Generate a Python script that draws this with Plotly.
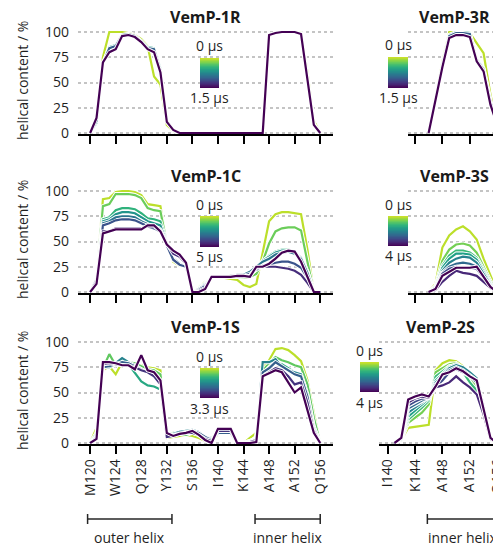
import numpy as np
import plotly.graph_objects as go
from plotly.colors import sample_colorscale

W, H = 501, 546
OFF = 8          # the page body margin shifts the figure by 8 px; compensate
FONT = "Open Sans"

# ---------------- data ----------------
res_full = list(range(120, 157))      # residues for VemP-1R / 1C / 1S
res_3 = list(range(146, 158))         # residues for VemP-3R / 3S
res_2S = list(range(141, 158))        # residues for VemP-2S

tick_full = [120, 124, 128, 132, 136, 140, 144, 148, 152, 156]
ticklab_full = ["M120", "W124", "Q128", "Y132", "S136", "I140", "K144", "A148", "A152", "Q156"]
tick_right = [140, 144, 148, 152, 156]
ticklab_right = ["I140", "K144", "A148", "A152", "Q156"]

vemp_1R = [
    [0, 10, 75, 100, 100, 100, 99, 97, 93, 86, 56, 48, 8, 2, 0, 0, 0, 0, 0, 0, 0, 0, 0, 0, 0, 0, 0, 0, 97, 99, 100, 100, 100, 99, 60, 12, 0],
    [0, 10, 68, 85, 87, 97, 98, 96, 91, 85, 84, 64, 12, 3, 0, 0, 0, 0, 0, 0, 0, 0, 0, 0, 0, 0, 0, 0, 97, 99, 100, 100, 100, 98, 54, 9, 0],
    [0, 12, 69, 84, 86, 97, 98, 96, 90, 84, 83, 62, 12, 3, 0, 0, 0, 0, 0, 0, 0, 0, 0, 0, 0, 0, 0, 0, 97, 99, 100, 100, 100, 98, 53, 8, 0],
    [0, 15, 70, 80, 83, 96, 97, 95, 90, 83, 80, 60, 11, 3, 0, 0, 0, 0, 0, 0, 0, 0, 0, 0, 0, 0, 0, 0, 97, 99, 100, 100, 100, 98, 52, 8, 0],
]

vemp_3R = [
    [0, 35, 70, 100, 100, 100, 99, 89, 79, 38, 5, 0],
    [0, 34, 68, 97, 100, 100, 99, 73, 64, 32, 5, 0],
    [0, 34, 67, 96, 99, 99, 98, 72, 63, 31, 5, 0],
    [0, 33, 65, 94, 97, 97, 95, 71, 61, 28, 8, 0],
]

vemp_1C = [
    [0, 15, 92, 93, 99, 100, 100, 99, 96, 87, 86, 85, 47, 30, 26, 25, 0, 5, 10, 14, 14, 14, 13, 12, 7, 5, 8, 40, 70, 77, 79, 79, 78, 77, 42, 0, 0],
    [0, 14, 85, 87, 97, 97, 97, 96, 93, 83, 81, 80, 48, 32, 27, 25, 0, 4, 9, 14, 15, 15, 15, 15, 14, 15, 18, 30, 48, 60, 63, 64, 64, 61, 30, 0, 0],
    [0, 13, 72, 74, 81, 83, 83, 82, 78, 73, 72, 70, 49, 33, 28, 25, 0, 3, 8, 15, 15, 15, 15, 16, 16, 18, 22, 30, 36, 40, 42, 42, 40, 34, 20, 0, 0],
    [0, 13, 70, 72, 77, 79, 79, 78, 74, 70, 68, 66, 48, 33, 28, 25, 0, 3, 8, 15, 15, 15, 16, 16, 17, 19, 24, 31, 35, 39, 41, 41, 39, 34, 20, 0, 0],
    [0, 12, 68, 70, 74, 75, 75, 74, 70, 67, 65, 62, 47, 33, 28, 25, 0, 3, 7, 15, 15, 15, 16, 17, 17, 20, 25, 30, 33, 37, 39, 40, 38, 33, 19, 0, 0],
    [0, 12, 66, 68, 71, 72, 72, 71, 68, 65, 63, 60, 46, 32, 27, 25, 0, 2, 6, 15, 15, 15, 16, 16, 16, 18, 22, 26, 27, 29, 30, 30, 28, 24, 14, 0, 0],
    [0, 10, 60, 60, 63, 63, 63, 63, 63, 65, 65, 61, 48, 38, 35, 28, 0, 1, 4, 15, 15, 15, 15, 15, 15, 16, 24, 25, 25, 25, 24, 23, 21, 17, 9, 0, 0],
    [0, 8, 58, 60, 62, 62, 62, 62, 62, 66, 66, 60, 47, 41, 37, 29, 0, 0, 3, 15, 15, 15, 15, 16, 16, 15, 25, 25, 28, 33, 39, 41, 40, 30, 14, 0, 0],
]

vemp_3S = [
    [0, 8, 44, 56, 62, 65, 60, 52, 33, 16, 0, 0],
    [0, 6, 31, 42, 47, 48, 46, 39, 25, 11, 0, 0],
    [0, 5, 26, 36, 41, 41, 39, 34, 22, 9, 0, 0],
    [0, 5, 24, 33, 38, 38, 37, 32, 20, 8, 0, 0],
    [0, 4, 21, 29, 33, 35, 34, 29, 18, 7, 0, 0],
    [0, 4, 19, 25, 28, 29, 28, 25, 15, 6, 0, 0],
    [0, 3, 18, 23, 25, 24, 24, 23, 14, 5, 0, 0],
    [0, 2, 10, 16, 21, 19, 18, 16, 10, 4, 0, 0],
    [0, 3, 16, 20, 24, 24, 24, 25, 15, 5, 0, 0],
]

vemp_1S = [
    [0, 15, 72, 76, 68, 80, 80, 78, 77, 75, 74, 72, 5, 6, 7, 8, 7, 5, 2, 3, 8, 8, 8, 0, 0, 5, 10, 75, 82, 93, 94, 92, 87, 81, 62, 30, 0],
    [0, 10, 74, 88, 77, 80, 80, 79, 76, 73, 72, 68, 8, 10, 9, 8, 10, 8, 3, 5, 10, 10, 10, 0, 0, 2, 5, 72, 78, 85, 82, 80, 77, 75, 58, 25, 0],
    [0, 8, 75, 75, 78, 82, 78, 70, 61, 57, 56, 53, 6, 8, 10, 10, 12, 10, 5, 5, 9, 9, 9, 0, 0, 2, 4, 68, 75, 80, 78, 74, 70, 65, 45, 15, 0],
    [0, 6, 76, 77, 79, 84, 80, 77, 73, 70, 68, 62, 8, 9, 11, 12, 13, 11, 6, 4, 10, 10, 10, 0, 0, 1, 4, 80, 80, 83, 75, 72, 70, 68, 48, 16, 0],
    [0, 6, 75, 76, 78, 80, 79, 76, 73, 70, 67, 60, 7, 8, 10, 11, 12, 10, 6, 3, 10, 10, 10, 0, 0, 1, 3, 70, 74, 80, 76, 72, 68, 66, 46, 14, 0],
    [0, 5, 78, 79, 78, 77, 77, 75, 72, 70, 66, 58, 6, 7, 9, 10, 10, 8, 4, 2, 12, 12, 12, 0, 0, 1, 3, 66, 70, 74, 72, 66, 58, 60, 40, 12, 0],
    [0, 4, 80, 80, 79, 77, 77, 73, 87, 72, 70, 62, 10, 7, 9, 10, 12, 8, 3, 0, 14, 14, 14, 0, 0, 0, 1, 66, 69, 72, 70, 60, 50, 55, 33, 10, 0],
]

vemp_2S = [
    [0, 3, 15, 16, 17, 18, 72, 79, 82, 81, 76, 69, 62, 34, 5, 0, 0],
    [0, 3, 20, 25, 30, 38, 70, 74, 78, 79, 74, 66, 55, 32, 5, 0, 0],
    [0, 3, 23, 29, 35, 42, 66, 71, 76, 77, 70, 60, 52, 30, 5, 0, 0],
    [0, 4, 26, 32, 38, 44, 62, 68, 75, 78, 74, 68, 62, 36, 6, 0, 0],
    [0, 4, 30, 35, 40, 45, 60, 66, 74, 77, 75, 70, 64, 37, 6, 0, 0],
    [0, 4, 34, 38, 42, 45, 58, 64, 72, 75, 72, 67, 62, 35, 5, 0, 0],
    [0, 5, 37, 41, 44, 45, 56, 62, 70, 73, 70, 66, 60, 34, 5, 0, 0],
    [0, 5, 40, 44, 46, 45, 55, 57, 60, 66, 60, 55, 48, 28, 4, 0, 0],
    [0, 5, 43, 46, 48, 46, 56, 68, 70, 74, 71, 66, 62, 33, 5, 0, 0],
]

outer_helix = (119.6, 132.8)
inner_helix = (145.8, 156.0)

# panel: title, residues, series, end-time label, axis index, column
panels = [
    ("VemP-1R", res_full, vemp_1R, "1.5 µs", 1, "L"),
    ("VemP-3R", res_3, vemp_3R, "1.5 µs", 2, "R3"),
    ("VemP-1C", res_full, vemp_1C, "5 µs", 3, "L"),
    ("VemP-3S", res_3, vemp_3S, "4 µs", 4, "R3"),
    ("VemP-1S", res_full, vemp_1S, "3.3 µs", 5, "L"),
    ("VemP-2S", res_2S, vemp_2S, "4 µs", 6, "R2"),
]

# ---------------- layout geometry (target-image pixels) ----------------
def fx(px):
    return (px - OFF) / W

def fy(py):
    return 1 - (py - OFF) / H

row_zero_px = [133, 292, 443]     # pixel row of y=0 for each panel row
Y_RANGE = [-1, 104]
PX_PER_UNIT = 1.01

col_geom = {
    "L": dict(x0=78, x1=333, rng=[118.1, 158.0]),
    "R3": dict(x0=408, x1=509, rng=[143.0, 157.7]),
    "R2": dict(x0=379, x1=509, rng=[138.75, 157.7]),
}

grad_boxes = {
    1: (200, 219, 58, 88),
    2: (388, 408, 57, 88),
    3: (200, 219, 216, 247),
    4: (388, 408, 216, 246),
    5: (200, 219, 368, 398),
    6: (360, 379, 362, 392),
}

fig = go.Figure()
layout = dict(
    width=W, height=H, margin=dict(l=0, r=0, t=0, b=0, autoexpand=False),
    paper_bgcolor="white", plot_bgcolor="white", showlegend=False,
    font=dict(family=FONT, size=14, color="#1f1f1f"),
)
annotations = []
shapes = []
TXT = dict(size=14, family=FONT, color="#1f1f1f")

for title, res, series, tlabel, k, col in panels:
    n = len(series)
    cols = sample_colorscale("Viridis", [0.9 * (1 - i / (n - 1)) for i in range(n)])
    for i, ys in enumerate(series):
        fig.add_trace(go.Scatter(x=res, y=ys, mode="lines", xaxis=f"x{k}", yaxis=f"y{k}",
                                 line=dict(color="white", width=4), hoverinfo="skip"))
        fig.add_trace(go.Scatter(x=res, y=ys, mode="lines", xaxis=f"x{k}", yaxis=f"y{k}",
                                 line=dict(color=cols[i], width=2.2)))
    row = (k - 1) // 2
    z0 = row_zero_px[row]
    ybot = z0 - (Y_RANGE[0]) * PX_PER_UNIT
    ytop = z0 - (Y_RANGE[1]) * PX_PER_UNIT
    g = col_geom[col]
    bottom = row == 2
    left = col == "L"
    tv = tick_full if left else tick_right
    tt = ticklab_full if left else ticklab_right
    layout[f"xaxis{k}"] = dict(
        domain=[fx(g["x0"]), min(1.0, fx(g["x1"]))], range=g["rng"], anchor=f"y{k}",
        showline=True, linecolor="black", linewidth=1.5,
        ticks="outside", ticklen=8, tickwidth=1.5, tickcolor="black",
        tickvals=tv, ticktext=tt, showticklabels=bottom, tickangle=-90,
        tickfont=TXT,
        showgrid=False, zeroline=False, fixedrange=True, automargin=False,
    )
    layout[f"yaxis{k}"] = dict(
        domain=[fy(ybot), fy(ytop)], range=Y_RANGE, anchor=f"x{k}",
        tickvals=[0, 25, 50, 75, 100], showticklabels=left, ticks="",
        ticklabelstandoff=8,
        tickfont=TXT,
        showgrid=True, gridcolor="#c4c4c4", griddash="dot", gridwidth=1.5,
        showline=False, zeroline=False, fixedrange=True, automargin=False,
    )
    # title
    annotations.append(dict(text=f"<b>{title}</b>", x=fx((g["x0"] + g["x1"]) / 2 - (4 if col != "L" else 0)),
                            y=fy(z0 - 116), xref="paper", yref="paper", showarrow=False,
                            font=dict(size=16, family=FONT, color="#1a1a1a"), xanchor="center", yanchor="middle"))
    if left:
        annotations.append(dict(text="helical content / %", x=fx(23), y=fy((ybot + ytop) / 2),
                                xref="paper", yref="paper", showarrow=False, textangle=-90,
                                font=TXT, xanchor="center", yanchor="middle"))
    # gradient legend
    gx0, gx1, gy0, gy1 = grad_boxes[k]
    gk = k + 6
    zgrad = [[v, v] for v in np.linspace(0, 1, 80)]
    gscale = [[p, c] for p, c in zip(np.linspace(0, 1, 12),
                                      sample_colorscale("Viridis", list(np.linspace(0, 0.93, 12))))]
    fig.add_trace(go.Heatmap(z=zgrad, colorscale=gscale, showscale=False, zmin=0, zmax=1,
                             xaxis=f"x{gk}", yaxis=f"y{gk}", hoverinfo="skip"))
    layout[f"xaxis{gk}"] = dict(domain=[fx(gx0), fx(gx1)], anchor=f"y{gk}", visible=False,
                                fixedrange=True, automargin=False)
    layout[f"yaxis{gk}"] = dict(domain=[fy(gy1), fy(gy0)], anchor=f"x{gk}", visible=False,
                                fixedrange=True, automargin=False)
    cx = (gx0 + gx1) / 2
    annotations.append(dict(text="0 µs", x=fx(cx), y=fy(gy0 - 12), xref="paper", yref="paper",
                            showarrow=False, font=TXT, xanchor="center", yanchor="middle"))
    annotations.append(dict(text=tlabel, x=fx(cx), y=fy(gy1 + 10), xref="paper", yref="paper",
                            showarrow=False, font=TXT, xanchor="center", yanchor="middle"))

# helix brackets below bottom panels
BR_Y, CAP = 519, 5
TXT_Y = 537
for axk, (h0, h1), name in [(5, outer_helix, "outer helix"), (5, inner_helix, "inner helix"),
                            (6, inner_helix, "inner helix")]:
    line = dict(color="#262626", width=1.5)
    shapes.append(dict(type="line", xref=f"x{axk}", yref="paper", x0=h0, x1=h1, y0=fy(BR_Y), y1=fy(BR_Y), line=line))
    for hx in (h0, h1):
        shapes.append(dict(type="line", xref=f"x{axk}", yref="paper", x0=hx, x1=hx,
                           y0=fy(BR_Y - CAP), y1=fy(BR_Y + CAP), line=line))
    annotations.append(dict(text=name, x=(h0 + h1) / 2, y=fy(TXT_Y), xref=f"x{axk}", yref="paper",
                            showarrow=False, font=TXT, xanchor="center", yanchor="middle"))

layout["annotations"] = annotations
layout["shapes"] = shapes
fig.update_layout(**layout)
fig.write_html("out.html")
